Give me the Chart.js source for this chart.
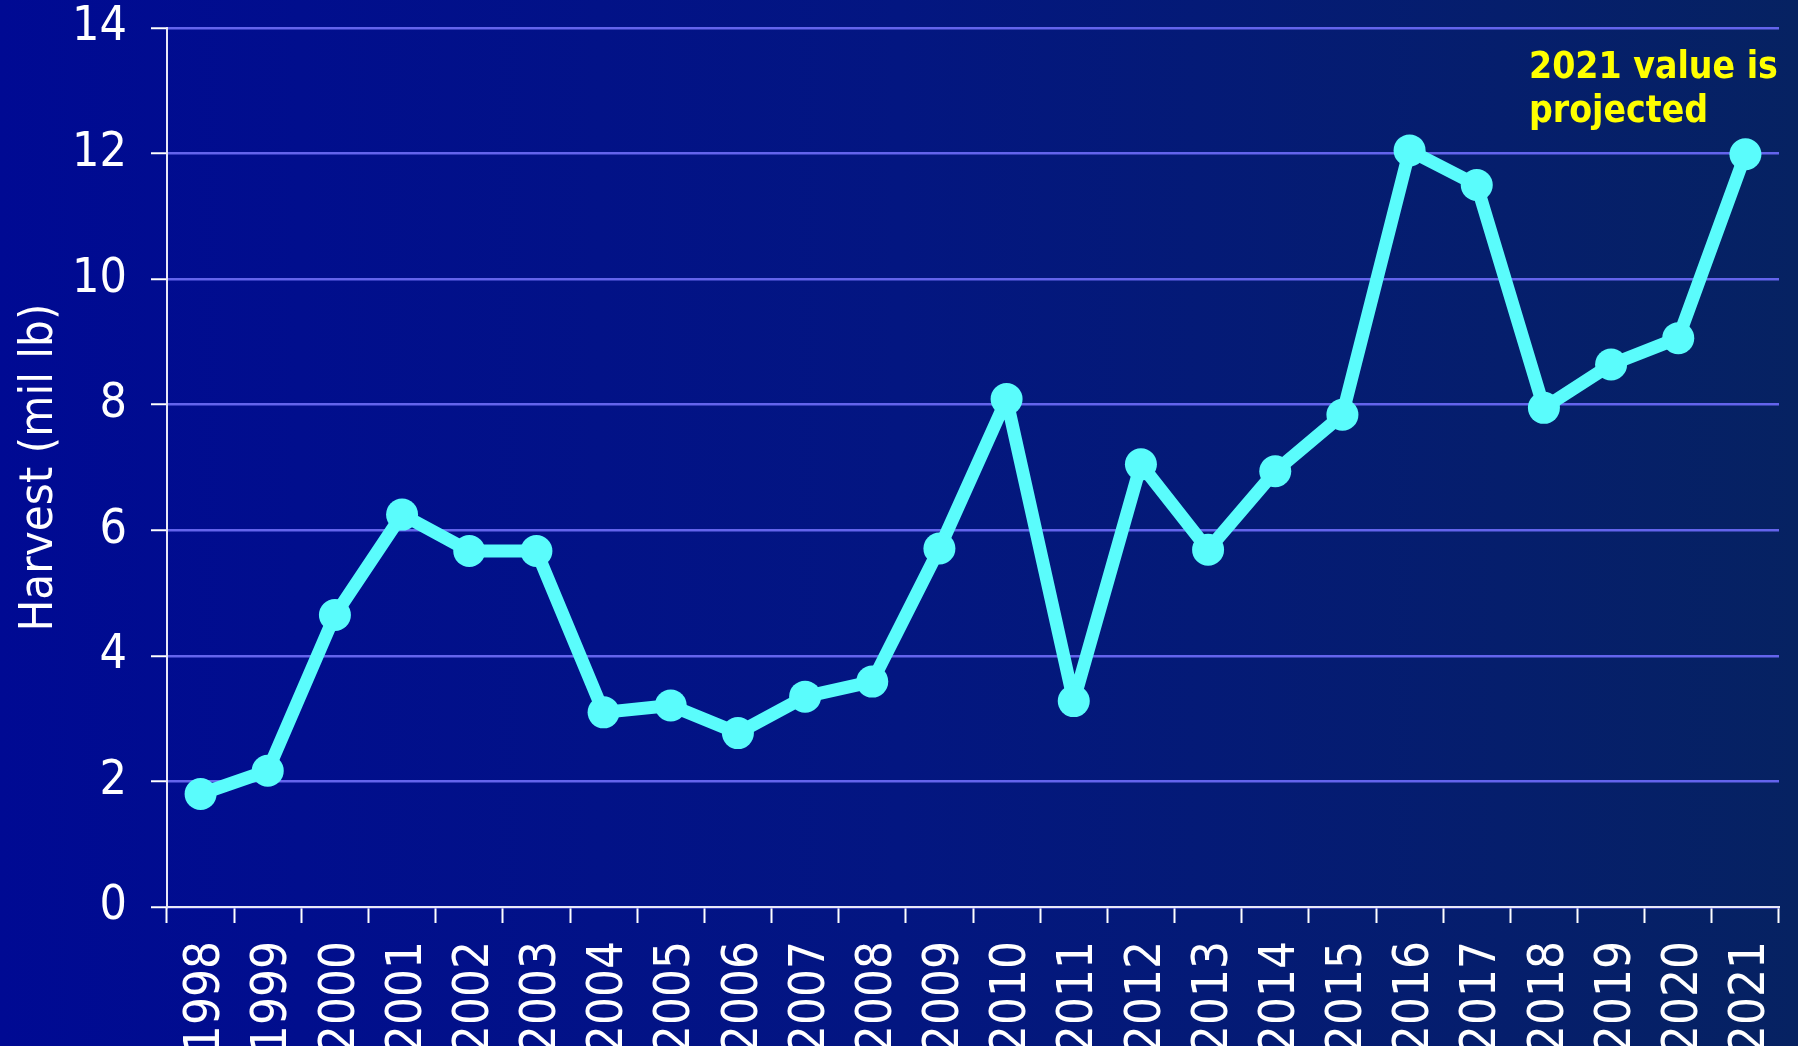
<!DOCTYPE html>
<html>
<head>
<meta charset="utf-8">
<script src="https://cdn.jsdelivr.net/npm/chart.js@4"></script>
<style>
    html, body { margin: 0; padding: 0; }
    body {
        width: 1798px;
        height: 1046px;
        overflow: hidden;
        background: linear-gradient(to right, #000A93 0%, #031681 50%, #062262 100%);
        position: relative;
        font-family: 'DejaVu Sans Condensed', 'DejaVu Sans', Verdana, sans-serif;
    }
    #wrap { position: absolute; left: 0; top: 0; width: 1798px; height: 1046px; }
    .note {
        position: absolute;
        left: 1529px;
        top: 44px;
        color: #FFFF00;
        font-weight: bold;
        font-size: 37px;
        line-height: 44px;
    }
</style>
</head>
<body>
<div id="wrap"><canvas id="chart"></canvas></div>
<div class="note">2021 value is<br>projected</div>
<script>
// Chart data
const years = ['1998', '1999', '2000', '2001', '2002', '2003', '2004', '2005', '2006', '2007', '2008', '2009',
               '2010', '2011', '2012', '2013', '2014', '2015', '2016', '2017', '2018', '2019', '2020', '2021'];
const harvest = [1.80, 2.17, 4.65, 6.25, 5.67, 5.67, 3.10, 3.21, 2.77, 3.35, 3.59, 5.71,
                 8.09, 3.28, 7.05, 5.69, 6.94, 7.84, 12.05, 11.50, 7.95, 8.64, 9.06, 11.99];
const yTicks = [0, 2, 4, 6, 8, 10, 12, 14];

const FONT = "'DejaVu Sans Condensed', 'DejaVu Sans', Verdana, sans-serif";
const CYAN = '#5AFCFC';

new Chart(document.getElementById('chart'), {
    type: 'line',
    data: {
        labels: years,
        datasets: [{
            data: harvest,
            borderColor: CYAN,
            backgroundColor: CYAN,
            borderWidth: 13,
            borderJoinStyle: 'round',
            borderCapStyle: 'round',
            pointRadius: 16,
            pointBorderWidth: 0,
            pointBackgroundColor: CYAN,
            tension: 0
        }]
    },
    options: {
        responsive: true,
        maintainAspectRatio: false,
        animation: false,
        layout: { padding: { top: 28, right: 19, left: 0, bottom: 0 } },
        plugins: {
            legend: { display: false },
            tooltip: { enabled: false }
        },
        scales: {
            x: {
                offset: true,
                grid: {
                    drawOnChartArea: false,
                    tickColor: '#FFFFFF',
                    tickLength: 16,
                    tickWidth: 2,
                    offset: true
                },
                border: { color: '#E8E8F8', width: 2 },
                ticks: {
                    color: '#FFFFFF',
                    font: { family: FONT, size: 49 },
                    maxRotation: 90,
                    minRotation: 90,
                    padding: 18,
                    labelOffset: 6,
                    autoSkip: false
                },
                afterFit: (scale) => {
                    scale.height = 139;
                    scale.paddingLeft = 0;
                    scale.paddingRight = 0;
                }
            },
            y: {
                min: 0,
                max: 14,
                afterBuildTicks: (scale) => { scale.ticks = yTicks.map(v => ({ value: v })); },
                grid: {
                    color: '#6464EC',
                    lineWidth: 2.5,
                    tickColor: '#FFFFFF',
                    tickLength: 16,
                    tickWidth: 2
                },
                border: { color: '#E8E8F8', width: 2 },
                ticks: {
                    color: '#FFFFFF',
                    font: { family: FONT, size: 48 },
                    padding: 24
                },
                title: {
                    display: true,
                    text: 'Harvest (mil lb)',
                    color: '#FFFFFF',
                    font: { family: FONT, size: 47 },
                    padding: { top: 12, bottom: 0 }
                },
                afterFit: (scale) => {
                    scale.width = 167;
                    scale.paddingTop = 0;
                    scale.paddingBottom = 0;
                }
            }
        }
    }
});
</script>
</body>
</html>
